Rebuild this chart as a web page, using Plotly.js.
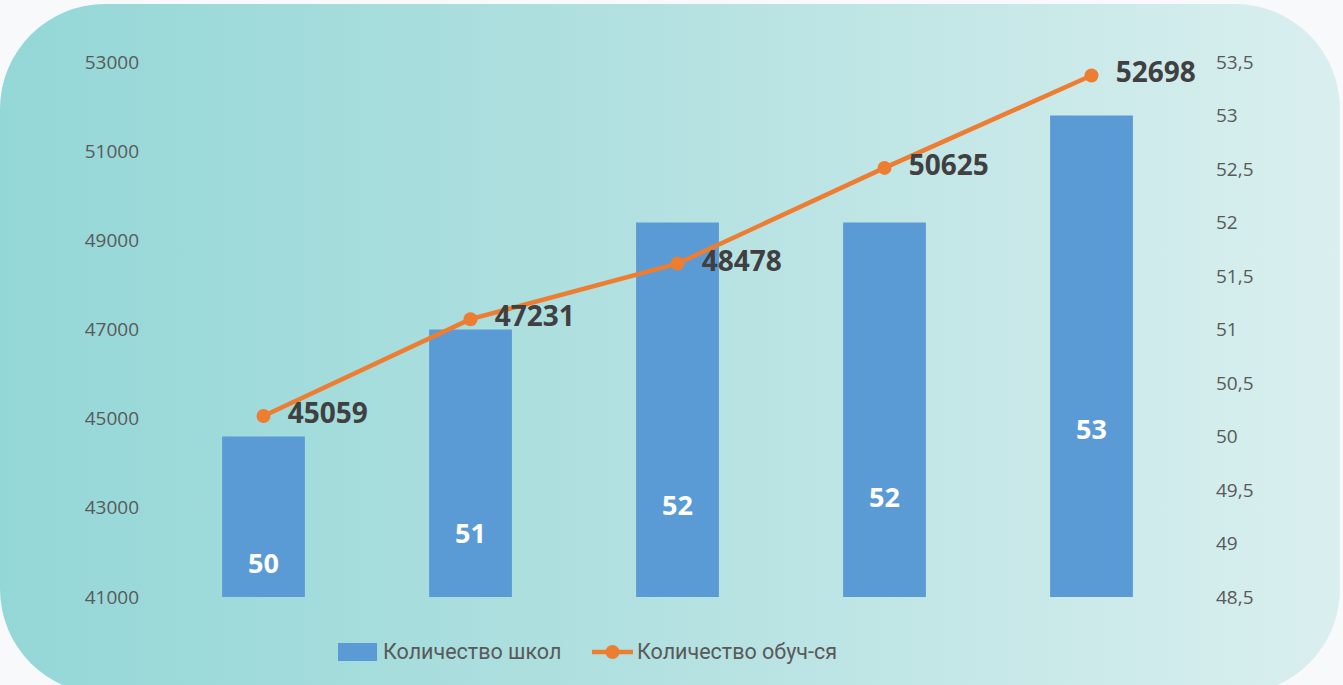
<!DOCTYPE html>
<html>
<head>
<meta charset="utf-8">
<script src="https://cdn.plot.ly/plotly-3.0.1.min.js"></script>
<style>
  html, body { margin: 0; padding: 0; background: #f8f9fb; }
  #wrap { position: relative; width: 1343px; height: 685px; overflow: hidden; }
  #bg { position: absolute; left: 0px; top: 4px; width: 1340px; height: 690px;
        border-radius: 105px; background: linear-gradient(to right, #94d7d7 0%, #b4e1e1 50%, #daefef 100%); }
  #chart { position: absolute; left: 0; top: 0; width: 1343px; height: 685px; }
</style>
</head>
<body>
<div id="wrap"><div id="bg"></div><div id="chart"></div></div>
<script>
// Data
const categories = ["2019", "2020", "2021", "2022", "2023"];
const schools = [50, 51, 52, 52, 53];
const students = [45059, 47231, 48478, 50625, 52698];
const seriesNames = ["Количество школ", "Количество обуч-ся"];
const schoolTicks = [48.5, 49, 49.5, 50, 50.5, 51, 51.5, 52, 52.5, 53, 53.5];
const studentTicks = [41000, 43000, 45000, 47000, 49000, 51000, 53000];

// Styling (label placement inside bars, px below bar top)
const barLabelDrop = [126, 203, 282, 274, 313];

const FONT = "Open Sans, Noto Sans, sans-serif";
const LEGFONT = "Roboto, Open Sans, sans-serif";
const BLUE = "#5b9bd5", ORANGE = "#ed7d31";

const barTrace = {
  type: "bar", name: seriesNames[0], x: categories, y: schools,
  yaxis: "y", marker: { color: BLUE }, hoverinfo: "skip", showlegend: false
};
const lineTrace = {
  type: "scatter", mode: "lines+markers+text", name: seriesNames[1],
  x: categories, y: students, yaxis: "y2",
  line: { color: ORANGE, width: 4.5 },
  marker: { color: ORANGE, size: 14 },
  text: students.map(v => "  " + String(v)),
  textposition: "middle right",
  textfont: { family: FONT, size: 28, color: "#404040", weight: "bold" },
  cliponaxis: false, hoverinfo: "skip", showlegend: false
};

const annotations = schools.map((v, i) => ({
  x: i, y: v, xref: "x", yref: "y",
  text: "<b>" + v + "</b>", showarrow: false,
  yshift: -barLabelDrop[i], yanchor: "middle",
  font: { family: FONT, size: 27, color: "#ffffff" }
}));

// Custom legend (paper coords)
const LEGY = -0.1028;
annotations.push(
  { xref: "paper", yref: "paper", x: 0.2135, y: LEGY, xanchor: "left", yanchor: "middle",
    text: seriesNames[0], showarrow: false, font: { family: LEGFONT, size: 21.5, color: "#595959" } },
  { xref: "paper", yref: "paper", x: 0.4590, y: LEGY, xanchor: "left", yanchor: "middle",
    text: seriesNames[1], showarrow: false, font: { family: LEGFONT, size: 21.5, color: "#595959" } }
);
const shapes = [
  { type: "rect", xref: "paper", yref: "paper", x0: 0.172, x1: 0.2097, y0: -0.086, y1: -0.1196,
    fillcolor: BLUE, line: { width: 0 } },
  { type: "line", xref: "paper", yref: "paper", x0: 0.4174, x1: 0.457, y0: LEGY, y1: LEGY,
    line: { color: ORANGE, width: 4.5 } },
  { type: "circle", xref: "paper", yref: "paper", xsizemode: "pixel", ysizemode: "pixel",
    xanchor: 0.4372, yanchor: LEGY, x0: -7, x1: 7, y0: -7, y1: 7,
    fillcolor: ORANGE, line: { width: 0 } }
];

const layout = {
  width: 1343, height: 685,
  margin: { l: 160, r: 148, t: 62, b: 88 },
  paper_bgcolor: "rgba(0,0,0,0)", plot_bgcolor: "rgba(0,0,0,0)",
  separators: ", ",
  bargap: 0.6,
  showlegend: false,
  xaxis: { type: "category", range: [-0.5, 4.5], showticklabels: false, showgrid: false, zeroline: false, showline: false, ticks: "" },
  yaxis: {
    side: "right", range: [48.5, 53.5], tickvals: schoolTicks,
    showgrid: false, zeroline: false, showline: false, ticks: "",
    ticklabelstandoff: 20,
    tickfont: { family: FONT, size: 19, color: "#595959" }
  },
  yaxis2: {
    overlaying: "y", side: "left", range: [41000, 53000], tickvals: studentTicks,
    tickformat: "d", showgrid: false, zeroline: false, showline: false, ticks: "",
    ticklabelstandoff: 20,
    tickfont: { family: FONT, size: 19, color: "#595959" }
  },
  annotations: annotations,
  shapes: shapes
};

Plotly.newPlot("chart", [barTrace, lineTrace], layout, { displayModeBar: false, staticPlot: true });
</script>
</body>
</html>
